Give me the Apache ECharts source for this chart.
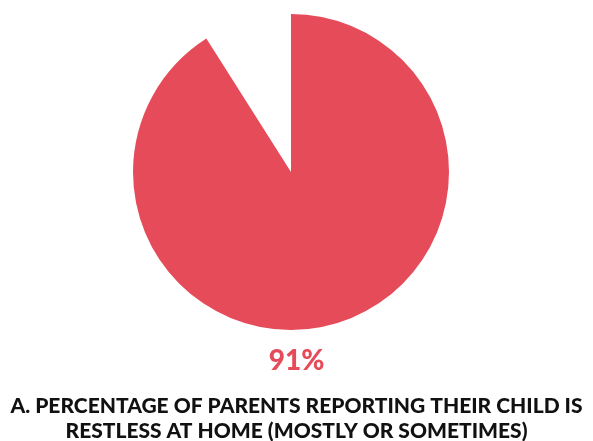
<!DOCTYPE html>
<html>
<head>
<meta charset="utf-8">
<script src="https://cdn.jsdelivr.net/npm/echarts@6/dist/echarts.min.js"></script>
<style>
  html, body { margin: 0; padding: 0; background: #fff; }
  #chart { width: 593px; height: 441px; }
</style>
</head>
<body>
<div id="chart"></div>
<script>
// Share of parents reporting restlessness at home
const categories = ['Mostly or sometimes', 'Rarely or never'];
const values = [91, 9];
const caption = ['A. PERCENTAGE OF PARENTS REPORTING THEIR CHILD IS', 'RESTLESS AT HOME (MOSTLY OR SOMETIMES)'];

const accent = '#e64b5a';

const chart = echarts.init(document.getElementById('chart'), null, { renderer: 'canvas' });
chart.setOption({
  animation: false,
  backgroundColor: '#ffffff',
  title: [
    {
      text: values[0] + '%',
      left: 'center',
      top: 342,
      textStyle: { fontFamily: 'Lato', fontWeight: 900, fontSize: 28, color: accent }
    },
    {
      text: caption.join('\n'),
      left: 'center',
      top: 389,
      textStyle: { fontFamily: 'Lato', fontWeight: 900, fontSize: 21, color: '#111111', lineHeight: 25 }
    }
  ],
  series: [{
    type: 'pie',
    center: [291, 172],
    radius: 158,
    startAngle: 90,
    clockwise: true,
    silent: true,
    label: { show: false },
    labelLine: { show: false },
    data: [
      { name: categories[0], value: values[0], itemStyle: { color: accent } },
      { name: categories[1], value: values[1], itemStyle: { color: 'rgba(255,255,255,0)' } }
    ]
  }]
});
</script>
</body>
</html>
